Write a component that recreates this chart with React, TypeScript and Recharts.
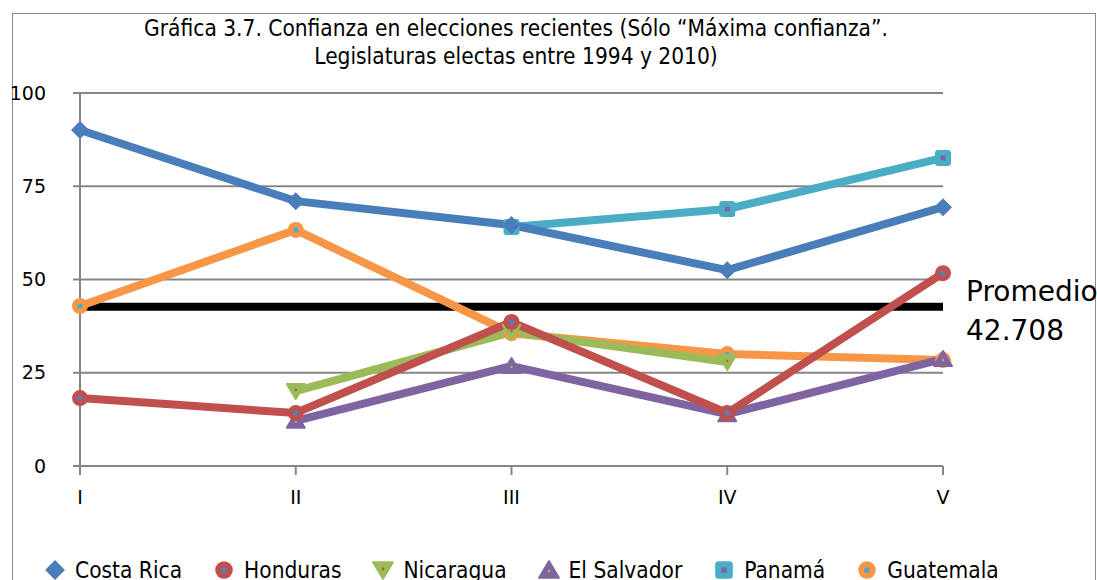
import { CartesianGrid, Line, LineChart, ReferenceLine, XAxis, YAxis } from "recharts";

const categories = ["I", "II", "III", "IV", "V"];
const costaRica = [90.1, 71.0, 64.6, 52.5, 69.4];
const honduras = [18.2, 14.2, 38.6, 14.2, 51.7];
const nicaragua = [null, 20.1, 35.9, 27.9, null];
const elSalvador = [null, 12.1, 26.8, 13.9, 28.7];
const panama = [null, null, 64.1, 68.9, 82.6];
const guatemala = [42.9, 63.3, 35.6, 30.0, 28.4];
const promedio = 42.708;
const yTicks = [0, 25, 50, 75, 100];

type Shape = "diamond" | "circle" | "triDown" | "triUp" | "square";

interface SeriesDef {
  key: string;
  name: string;
  color: string;
  inner: string;
  shape: Shape;
  values: (number | null)[];
}

const series: SeriesDef[] = [
  { key: "gt", name: "Guatemala", color: "#F79646", inner: "#4BACC6", shape: "circle", values: guatemala },
  { key: "pa", name: "Panamá", color: "#4BACC6", inner: "#8064A2", shape: "square", values: panama },
  { key: "cr", name: "Costa Rica", color: "#4A7EBB", inner: "#4A7EBB", shape: "diamond", values: costaRica },
  { key: "ni", name: "Nicaragua", color: "#9BBB59", inner: "#C0504D", shape: "triDown", values: nicaragua },
  { key: "sv", name: "El Salvador", color: "#8064A2", inner: "#9BBB59", shape: "triUp", values: elSalvador },
  { key: "hn", name: "Honduras", color: "#C0504D", inner: "#4F81BD", shape: "circle", values: honduras }
];

const legendOrder = ["cr", "hn", "ni", "sv", "pa", "gt"];

const data = categories.map((cat, i) => {
  const row: Record<string, string | number | null> = { cat };
  series.forEach((s) => {
    row[s.key] = s.values[i];
  });
  return row;
});

const font = "'DejaVu Sans Condensed', 'Liberation Sans Narrow', 'DejaVu Sans', sans-serif";
const grid = "#868686";

function Marker({ shape, color, inner, cx, cy, s = 1 }: { shape: Shape; color: string; inner: string; cx: number; cy: number; s?: number }) {
  switch (shape) {
    case "diamond":
      return <polygon points={`${cx},${cy - 9 * s} ${cx + 9 * s},${cy} ${cx},${cy + 9 * s} ${cx - 9 * s},${cy}`} fill={color} />;
    case "circle":
      return (
        <g>
          <circle cx={cx} cy={cy} r={8 * s} fill={color} />
          <circle cx={cx} cy={cy} r={2.6 * s} fill={inner} />
        </g>
      );
    case "square":
      return (
        <g>
          <rect x={cx - 8 * s} y={cy - 8 * s} width={16 * s} height={16 * s} rx={3 * s} fill={color} />
          <rect x={cx - 2.5 * s} y={cy - 2.5 * s} width={5 * s} height={5 * s} fill={inner} />
        </g>
      );
    case "triDown":
      return (
        <g>
          <polygon points={`${cx - 9 * s},${cy - 7 * s} ${cx + 9 * s},${cy - 7 * s} ${cx},${cy + 8 * s}`} fill={color} strokeLinejoin="round" stroke={color} strokeWidth={2} />
          <circle cx={cx} cy={cy - 1 * s} r={1.2 * s} fill={inner} />
        </g>
      );
    case "triUp":
      return (
        <g>
          <polygon points={`${cx - 9 * s},${cy + 7 * s} ${cx + 9 * s},${cy + 7 * s} ${cx},${cy - 8 * s}`} fill={color} strokeLinejoin="round" stroke={color} strokeWidth={2} />
          <circle cx={cx} cy={cy + 1 * s} r={1.2 * s} fill={inner} />
        </g>
      );
  }
}

function makeDot(s: SeriesDef) {
  return (props: any) => {
    const { cx, cy, index, value } = props;
    if (value == null || cx == null || cy == null) return <g key={`${s.key}-${index}`} />;
    return (
      <g key={`${s.key}-${index}`}>
        <Marker shape={s.shape} color={s.color} inner={s.inner} cx={cx} cy={cy} />
      </g>
    );
  };
}

function PromedioLabel(props: any) {
  const vb = props.viewBox || {};
  const x = (vb.x || 0) + (vb.width || 0) + 23;
  const y = vb.y || 0;
  return (
    <text x={x} y={y} fontFamily="'DejaVu Sans', sans-serif" fontSize={28} fill="#000">
      <tspan x={x} dy={-6}>Promedio</tspan>
      <tspan x={x} dy={39}>42.708</tspan>
    </text>
  );
}

export default function App() {
  return (
    <div style={{ position: "fixed", left: 0, top: 0, width: 1097, height: 580, overflow: "hidden", background: "#fff", fontFamily: font }}>
      <div style={{ position: "absolute", left: 12, top: 13, width: 1082, height: 620, border: "1px solid #898989" }} />
      <div style={{ position: "absolute", left: 0, top: 14, width: 1032, textAlign: "center", fontSize: 22.5, lineHeight: "28px", color: "#000" }}>
        Gráfica 3.7. Confianza en elecciones recientes (Sólo “Máxima confianza”.
        <br />
        Legislaturas electas entre 1994 y 2010)
      </div>
      <div style={{ position: "absolute", left: 0, top: 0 }}>
        <LineChart width={1097} height={580} data={data} margin={{ top: 93, right: 154, bottom: 0, left: 0 }}>
          <CartesianGrid vertical={false} stroke={grid} strokeWidth={2} />
          <XAxis
            dataKey="cat"
            height={114}
            axisLine={{ stroke: grid, strokeWidth: 2 }}
            tickLine={{ stroke: grid, strokeWidth: 2 }}
            tickSize={9}
            tickMargin={16}
            tick={{ fill: "#000", fontSize: 19, fontFamily: "'DejaVu Sans', sans-serif" }}
            interval={0}
          />
          <YAxis
            width={80}
            domain={[0, 100]}
            ticks={yTicks}
            axisLine={{ stroke: grid, strokeWidth: 2 }}
            tickLine={{ stroke: grid, strokeWidth: 2 }}
            tickSize={7}
            tickMargin={27}
            tick={{ fill: "#000", fontSize: 19, fontFamily: "'DejaVu Sans', sans-serif" }}
          />
          <ReferenceLine y={promedio} stroke="#000" strokeWidth={8} label={<PromedioLabel />} />
          {series.map((s) => (
            <Line
              key={s.key}
              dataKey={s.key}
              name={s.name}
              stroke={s.color}
              strokeWidth={8}
              type="linear"
              dot={makeDot(s)}
              activeDot={false}
              isAnimationActive={false}
              connectNulls={false}
            />
          ))}
        </LineChart>
      </div>
      <div style={{ position: "absolute", left: 44, top: 557, display: "flex", alignItems: "center", gap: 31, fontSize: 22.5, color: "#000", whiteSpace: "nowrap" }}>
        {legendOrder.map((k) => {
          const s = series.find((x) => x.key === k)!;
          return (
            <div key={k} style={{ display: "flex", alignItems: "center", gap: 9 }}>
              <svg width={22} height={24}>
                <Marker shape={s.shape} color={s.color} inner={s.inner} cx={11} cy={12} s={1.1} />
              </svg>
              <span>{s.name}</span>
            </div>
          );
        })}
      </div>
    </div>
  );
}
